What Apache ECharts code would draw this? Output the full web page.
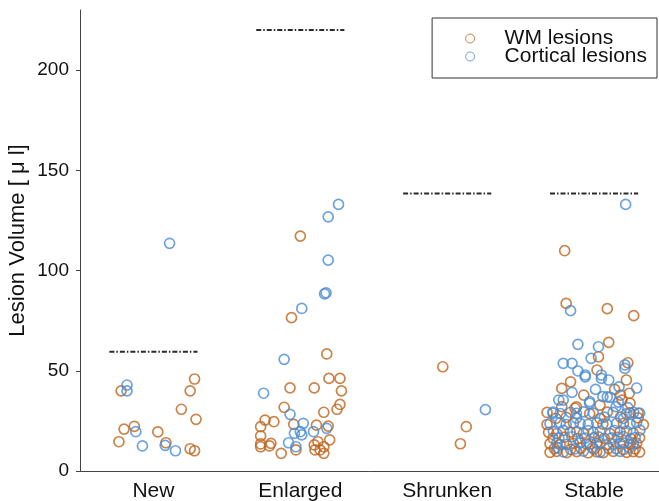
<!DOCTYPE html>
<html>
<head>
<meta charset="utf-8">
<script src="https://cdn.jsdelivr.net/npm/echarts@6/dist/echarts.min.js"></script>
<style>
html,body{margin:0;padding:0;background:#fff;}
#chart{width:659px;height:501px;}
</style>
</head>
<body>
<div id="chart"></div>
<script>
const categories = ['New', 'Enlarged', 'Shrunken', 'Stable'];
const thresholds = [59.5, 220, 138.5, 138.5];
const yTicks = [0, 50, 100, 150, 200];

// [jitter offset from category centre, lesion volume]
const wmNew = [[-0.22,40.0],[-0.20,20.9],[-0.235,14.6],[-0.13,22.3],[0.03,19.5],[0.085,14.1],[0.19,30.8],[0.25,40.0],[0.28,45.9],[0.29,25.8],[0.25,11.1],[0.28,10.1]];
const cortNew = [[0.11,113.6],[-0.18,42.9],[-0.18,40.0],[-0.12,19.6],[-0.075,12.5],[0.08,12.8],[0.15,10.1]];

const wmEnlarged = [[0.0,117.2],[-0.06,76.5],[0.18,58.4],[-0.07,41.5],[0.095,41.5],[0.195,46.2],[0.27,46.2],[0.28,40.0],[0.27,33.2],[0.25,30.8],[0.16,29.3],[-0.11,31.8],[-0.24,25.4],[-0.18,24.6],[-0.27,22.1],[-0.27,17.5],[-0.27,13.5],[-0.27,12.1],[-0.20,13.8],[-0.21,12.5],[-0.13,8.8],[-0.045,23.3],[-0.03,10.5],[0.11,22.9],[0.19,22.4],[0.20,15.5],[0.095,13.0],[0.12,14.6],[0.135,10.5],[0.16,8.8],[0.10,10.5],[0.16,12.1]];
const cortEnlarged = [[0.26,133.0],[0.19,126.8],[0.19,105.2],[0.165,88.4],[0.175,88.9],[0.01,81.1],[-0.11,55.7],[-0.25,38.8],[-0.07,28.3],[0.02,23.8],[-0.04,18.8],[0.0,19.6],[0.01,18.0],[-0.08,14.1],[-0.03,12.1],[0.09,19.6],[0.18,21.3]];

const wmShrunken = [[-0.03,52.0],[0.13,22.1],[0.09,13.6]];
const cortShrunken = [[0.26,30.6]];

const wmStable = [[-0.20,109.9],[-0.19,83.6],[0.09,81.0],[0.27,77.5],[0.10,64.2],[0.03,57.0],[0.23,54.0],[0.02,50.4],[0.22,45.4],[-0.16,44.5],[-0.22,41.2],[0.14,40.7],[-0.07,37.9],[0.24,38.8],[0.19,35.4],[0.18,37.9],[0.04,32.9],[-0.22,32.1],[-0.13,31.3],[-0.12,32.0],[0.245,33.8],[0.30,28.8],
[-0.32,29.2],[-0.03,28.6],[0.09,29.4],[0.245,28.9],
[-0.26,26.3],[-0.19,26.8],[0.04,26.2],[0.18,26.9],[0.30,26.5],
[-0.32,23.2],[-0.14,23.9],[0.06,23.4],[0.20,23.7],[0.336,23.1],
[-0.31,19.3],[-0.254,18.7],[-0.163,19.4],[-0.073,18.8],[-0.005,19.2],[0.109,18.6],[0.177,19.5],[0.267,18.9],
[-0.28,16.4],[-0.20,16.9],[-0.11,16.2],[0.0,16.7],[0.07,16.3],[0.16,16.8],[0.25,16.1],[0.31,16.6],
[-0.30,13.6],[-0.231,13.2],[-0.141,13.8],[-0.05,13.4],[0.018,13.9],[0.086,13.1],[0.177,13.7],[0.245,13.3],[0.29,13.8],
[-0.27,11.2],[-0.16,10.8],[-0.09,11.4],[0.0,10.9],[0.10,11.3],[0.20,10.7],[0.28,11.1],
[-0.30,9.3],[-0.254,9.8],[-0.186,9.2],[-0.118,9.7],[-0.04,9.1],[0.018,9.6],[0.063,9.2],[0.131,9.8],[0.222,9.3],[0.267,9.7],[0.31,9.4]];
const cortStable = [[0.215,133.0],[-0.16,80.0],[-0.11,63.2],[0.03,62.0],[-0.02,56.2],[-0.21,53.7],[-0.15,53.7],[0.21,52.9],[0.21,51.2],[-0.11,49.9],[-0.06,47.9],[0.05,47.9],[-0.06,47.0],[0.05,46.2],[0.10,45.4],[0.17,42.0],[0.29,41.4],[-0.15,39.2],[0.01,40.7],[0.09,37.0],[0.06,37.1],[0.11,36.8],[-0.24,35.4],[-0.21,35.4],[-0.03,34.6],[-0.03,33.8],[0.165,34.4],[0.15,32.1],[0.23,31.6],[-0.28,28.8],[0.31,28.9],
[-0.28,29.4],[-0.23,28.7],[-0.16,29.3],[-0.12,28.8],[-0.07,29.5],[-0.005,28.9],[0.13,29.2],[0.22,28.6],[0.27,29.3],
[-0.12,26.4],[0.07,26.9],[0.20,26.2],
[-0.30,23.6],[-0.23,24.1],[-0.19,23.2],[-0.095,23.8],[-0.04,23.3],[0.018,24.0],[0.086,23.5],[0.154,23.9],[0.245,23.4],[0.29,24.1],
[-0.277,19.8],[-0.209,20.3],[-0.118,19.6],[-0.04,20.1],[0.041,19.7],[0.14,20.2],[0.222,19.9],[0.313,20.4],
[-0.24,16.6],[-0.15,17.1],[-0.06,16.4],[0.03,17.0],[0.12,16.5],[0.20,17.2],[0.28,16.7],
[-0.254,13.9],[-0.186,13.3],[-0.095,14.0],[-0.027,13.5],[0.041,14.1],[0.131,13.4],[0.20,14.0],[0.267,13.6],
[-0.25,11.5],[-0.13,11.0],[-0.01,11.6],[0.15,11.1],[0.24,11.7],
[-0.209,9.5],[-0.073,9.9],[0.041,9.4],[0.177,9.8]];

const wmColor = '#BF641C';
const cortColor = '#4A8CD5';
const FONT = "'Liberation Sans', Arial, Helvetica, sans-serif";

function place(groups) {
  const out = [];
  groups.forEach((g, i) => g.forEach(p => out.push([i + 1 + p[0], p[1]])));
  return out;
}

const wmData = place([wmNew, wmEnlarged, wmShrunken, wmStable]);
const cortData = place([cortNew, cortEnlarged, cortShrunken, cortStable]);

const thresholdSeries = thresholds.map((t, i) => ({
  type: 'line',
  xAxisIndex: 1,
  data: [[i + 1 - 0.3, t], [i + 1 + 0.3, t]],
  symbol: 'none',
  silent: true,
  lineStyle: { color: '#2a2a2a', width: 2, type: [5, 2, 1.5, 2] },
  z: 3
}));

const chart = echarts.init(document.getElementById('chart'), null, { renderer: 'canvas' });
chart.setOption({
  animation: false,
  backgroundColor: '#fff',
  textStyle: { fontFamily: FONT },
  grid: { left: 80, top: 10, bottom: 30, right: -8.5, containLabel: false, outerBoundsMode: 'none' },
  legend: {
    orient: 'vertical',
    right: 2,
    top: 18,
    data: ['WM lesions', 'Cortical lesions'],
    icon: 'circle',
    itemWidth: 9,
    itemHeight: 9,
    itemGap: -3,
    padding: [10, 10, 11, 33],
    borderColor: '#333',
    borderWidth: 1,
    backgroundColor: '#fff',
    itemStyle: { borderWidth: 1 },
    textStyle: { fontSize: 21, color: '#111', lineHeight: 16, padding: [0, 0, 0, 25], fontFamily: FONT }
  },
  xAxis: [
    {
      type: 'category',
      data: categories,
      boundaryGap: true,
      axisLine: { lineStyle: { color: '#444', width: 1 } },
      axisTick: { alignWithLabel: true, inside: true, length: 5, lineStyle: { color: '#444' } },
      axisLabel: { fontSize: 21, color: '#111', margin: 10, fontFamily: FONT },
      splitLine: { show: false }
    },
    {
      type: 'value',
      min: 0.5,
      max: 4.5,
      show: false
    }
  ],
  yAxis: {
    type: 'value',
    min: 0,
    max: 230,
    name: 'Lesion Volume [ μ l]',
    nameLocation: 'middle',
    nameGap: 51,
    nameMoveOverlap: false,
    nameTextStyle: { fontSize: 22, color: '#111', fontFamily: FONT },
    axisLine: { show: true, lineStyle: { color: '#444', width: 1 } },
    axisTick: { show: true, length: 4, customValues: yTicks, lineStyle: { color: '#444' } },
    axisLabel: { fontSize: 19, color: '#111', margin: 11, customValues: yTicks, fontFamily: FONT },
    splitLine: { show: false }
  },
  series: [
    {
      name: 'WM lesions',
      type: 'scatter',
      xAxisIndex: 1,
      data: wmData,
      symbol: 'circle',
      symbolSize: 10,
      itemStyle: { color: 'rgba(255,255,255,0)', borderColor: wmColor, borderWidth: 1.7 },
      z: 2
    },
    {
      name: 'Cortical lesions',
      type: 'scatter',
      xAxisIndex: 1,
      data: cortData,
      symbol: 'circle',
      symbolSize: 10,
      itemStyle: { color: 'rgba(255,255,255,0)', borderColor: cortColor, borderWidth: 1.7 },
      z: 2
    }
  ].concat(thresholdSeries)
});
</script>
</body>
</html>
